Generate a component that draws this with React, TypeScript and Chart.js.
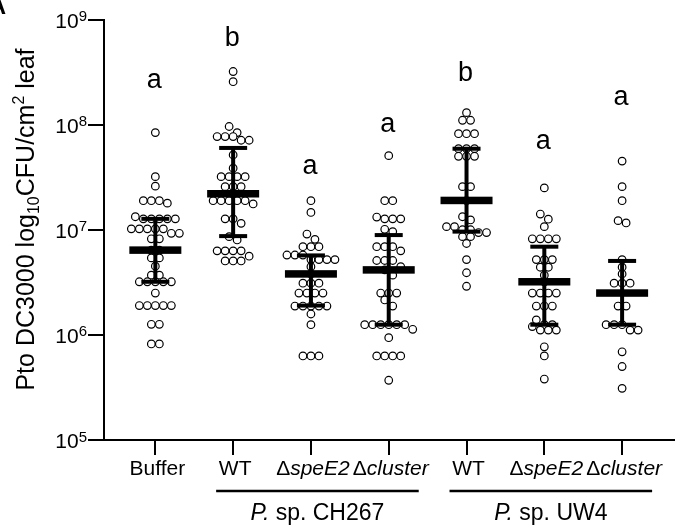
import React, { useEffect, useRef } from 'react';
import { Chart, registerables } from 'chart.js';

Chart.register(...registerables);

// ---------- data ----------
const categories = ['Buffer', 'WT', 'ΔspeE2', 'Δcluster', 'WT', 'ΔspeE2', 'Δcluster'];
const groupNames = ['CH267', 'UW4'];
const groupStart = [1, 4];
const groupEnd = [3, 6];
const significance = ['a', 'b', 'a', 'a', 'b', 'a', 'a'];
const significanceY = [2.23e8, 5.6e8, 3.4e7, 8.5e7, 2.6e8, 5.9e7, 1.54e8];

const bufferValues = [8.4e7, 3.2e7, 2.6e7, 1.89e7, 1.89e7, 1.89e7, 1.79e7, 1.33e7, 1.27e7, 1.27e7, 1.27e7, 1.27e7, 1.27e7, 1.02e7, 1.02e7, 1.02e7, 1.02e7, 1.02e7, 9.25e6, 9.25e6, 8.2e6, 8.2e6, 6.4e6, 6.4e6, 5.4e6, 5.4e6, 4.5e6, 3.7e6, 3.7e6, 3.2e6, 3.2e6, 3.2e6, 3.2e6, 3.2e6, 2.5e6, 1.9e6, 1.9e6, 1.9e6, 1.9e6, 1.9e6, 1.26e6, 1.26e6, 8.2e5, 8.2e5];
const wtCH267Values = [3.2e8, 2.56e8, 9.6e7, 8.4e7, 7.7e7, 7.7e7, 7.7e7, 7.1e7, 7.1e7, 5.15e7, 3.85e7, 3.2e7, 3.2e7, 3.2e7, 3.2e7, 2.57e7, 2.57e7, 2.57e7, 2.2e7, 1.89e7, 1.89e7, 1.89e7, 1.89e7, 1.89e7, 1.76e7, 1.27e7, 1.27e7, 1.15e7, 8.6e6, 8.0e6, 6.3e6, 6.3e6, 6.3e6, 6.3e6, 5.6e6, 5.05e6, 5.05e6, 5.05e6];
const speE2CH267Values = [1.89e7, 1.46e7, 9.1e6, 8.1e6, 6.9e6, 6.9e6, 6.9e6, 5.75e6, 5.75e6, 5.75e6, 5.2e6, 5.2e6, 5.2e6, 5.2e6, 4.45e6, 3.8e6, 3.1e6, 3.1e6, 3.1e6, 2.5e6, 2.5e6, 2.5e6, 2.5e6, 1.88e6, 1.88e6, 1.88e6, 1.88e6, 1.88e6, 1.58e6, 1.25e6, 6.3e5, 6.3e5, 6.3e5];
const clusterCH267Values = [5.07e7, 1.89e7, 1.89e7, 1.32e7, 1.27e7, 1.27e7, 1.27e7, 1.01e7, 9.6e6, 6.9e6, 6.9e6, 6.9e6, 6.3e6, 5.1e6, 5.1e6, 5.1e6, 4.45e6, 4.15e6, 3.7e6, 2.5e6, 2.5e6, 2.5e6, 2.15e6, 1.88e6, 1.25e6, 1.25e6, 1.25e6, 1.25e6, 1.25e6, 1.25e6, 1.13e6, 9.4e5, 6.3e5, 6.3e5, 6.3e5, 6.3e5, 3.7e5];
const wtUW4Values = [1.3e8, 1.1e8, 1.1e8, 8.2e7, 8.2e7, 8.2e7, 5.9e7, 5.9e7, 5.9e7, 5.0e7, 5.0e7, 5.0e7, 2.57e7, 2.57e7, 1.89e7, 1.33e7, 1.24e7, 1.07e7, 1.07e7, 1.0e7, 1.0e7, 9.4e6, 9.4e6, 8.6e6, 8.6e6, 7.4e6, 5.2e6, 3.9e6, 2.9e6];
const speE2UW4Values = [2.5e7, 1.41e7, 1.26e7, 1.07e7, 8.2e6, 8.2e6, 8.2e6, 8.2e6, 5.2e6, 5.2e6, 5.2e6, 4.4e6, 4.4e6, 3.7e6, 3.2e6, 2.5e6, 2.5e6, 2.5e6, 2.5e6, 1.88e6, 1.88e6, 1.88e6, 1.39e6, 1.25e6, 1.25e6, 1.2e6, 1.11e6, 1.11e6, 1.11e6, 7.7e5, 6.3e5, 3.8e5];
const clusterUW4Values = [4.5e7, 2.57e7, 1.89e7, 1.22e7, 1.16e7, 5.2e6, 4.4e6, 3.8e6, 3.1e6, 3.1e6, 3.1e6, 1.88e6, 1.88e6, 1.25e6, 1.25e6, 1.25e6, 1.11e6, 1.11e6, 6.9e5, 5.0e5, 3.1e5];

const medians = [6.4e6, 2.2e7, 3.8e6, 4.15e6, 1.9e7, 3.2e6, 2.5e6];
const upperQuartile = [1.27e7, 6.0e7, 5.7e6, 8.9e6, 5.9e7, 6.9e6, 5.05e6];
const lowerQuartile = [3.2e6, 8.7e6, 1.9e6, 1.25e6, 9.6e6, 1.25e6, 1.25e6];

const yTicks = [1e5, 1e6, 1e7, 1e8, 1e9];
const xTicks = [0, 1, 2, 3, 4, 5, 6];

const allGroups = [bufferValues, wtCH267Values, speE2CH267Values, clusterCH267Values, wtUW4Values, speE2UW4Values, clusterUW4Values];

const FONT = "'Liberation Sans', Arial, Helvetica, sans-serif";

const swarmPlugin = {
  id: 'swarm',
  afterDatasetsUpdate(chart: any) {
    const meta = chart.getDatasetMeta(0);
    const data = chart.data.datasets[0].data as any[];
    const xs = chart.scales.x;
    const SPACING = 8;
    const TOL = 6.5;
    for (let c = 0; c < categories.length; c++) {
      const items = meta.data
        .map((el: any, i: number) => ({ el, i }))
        .filter((d: any) => data[d.i].x === c)
        .sort((a: any, b: any) => a.el.y - b.el.y);
      const base = xs.getPixelForValue(c);
      let k = 0;
      while (k < items.length) {
        const y0 = items[k].el.y;
        let j = k;
        while (j < items.length && items[j].el.y - y0 < TOL) j++;
        const n = j - k;
        for (let m = 0; m < n; m++) {
          items[k + m].el.x = base + (m - (n - 1) / 2) * SPACING;
        }
        k = j;
      }
    }
  },
};

const annotationPlugin = {
  id: 'annot',
  afterDatasetsDraw(chart: any) {
    const ctx = chart.ctx as CanvasRenderingContext2D;
    const xs = chart.scales.x;
    const ys = chart.scales.y;
    ctx.save();
    ctx.fillStyle = '#000';
    for (let i = 0; i < categories.length; i++) {
      const x = xs.getPixelForValue(i);
      const yt = ys.getPixelForValue(upperQuartile[i]);
      const yb = ys.getPixelForValue(lowerQuartile[i]);
      const ym = ys.getPixelForValue(medians[i]);
      ctx.fillRect(x - 2, yt, 4, yb - yt);
      ctx.fillRect(x - 14, yt - 2, 28, 4);
      ctx.fillRect(x - 14, yb - 2, 28, 4);
      ctx.fillRect(x - 26, ym - 3.75, 52, 7.5);
      ctx.font = `27px ${FONT}`;
      ctx.textAlign = 'center';
      ctx.textBaseline = 'alphabetic';
      ctx.fillText(significance[i], x - 1, ys.getPixelForValue(significanceY[i]));
    }
    ctx.restore();
  },
  afterDraw(chart: any) {
    const ctx = chart.ctx as CanvasRenderingContext2D;
    const xs = chart.scales.x;
    const ys = chart.scales.y;
    ctx.save();
    ctx.fillStyle = '#000';
    ctx.strokeStyle = '#000';
    ctx.textBaseline = 'alphabetic';

    // y tick labels 10^n
    const right = chart.chartArea.left - 17;
    yTicks.forEach((v) => {
      const y = ys.getPixelForValue(v);
      const exp = String(Math.round(Math.log10(v)));
      ctx.font = `15px ${FONT}`;
      ctx.textAlign = 'right';
      const supW = ctx.measureText(exp).width;
      ctx.fillText(exp, right, y + 1.5);
      ctx.font = `21px ${FONT}`;
      ctx.fillText('10', right - supW, y + 8);
    });

    // y title
    ctx.save();
    ctx.translate(33.5, 219.5);
    ctx.rotate(-Math.PI / 2);
    const pieces = [
      { t: 'Pto DC3000 log', f: `25px ${FONT}`, dy: 0 },
      { t: '10', f: `16px ${FONT}`, dy: 5 },
      { t: 'CFU/cm', f: `25px ${FONT}`, dy: 0 },
      { t: '2', f: `16px ${FONT}`, dy: -10 },
      { t: ' leaf', f: `25px ${FONT}`, dy: 0 },
    ];
    let total = 0;
    pieces.forEach((p) => { ctx.font = p.f; total += ctx.measureText(p.t).width; });
    let px = -total / 2;
    ctx.textAlign = 'left';
    pieces.forEach((p) => {
      ctx.font = p.f;
      ctx.fillText(p.t, px, p.dy);
      px += ctx.measureText(p.t).width;
    });
    ctx.restore();

    // category labels
    ctx.textAlign = 'left';
    categories.forEach((lab, i) => {
      const x = xs.getPixelForValue(i) + 2;
      let parts: { t: string; f: string }[];
      if (lab.startsWith('Δ')) {
        parts = [
          { t: 'Δ', f: `21px ${FONT}` },
          { t: lab.slice(1), f: `italic 21px ${FONT}` },
        ];
      } else {
        parts = [{ t: lab, f: `21px ${FONT}` }];
      }
      let w = 0;
      parts.forEach((p) => { ctx.font = p.f; w += ctx.measureText(p.t).width; });
      let cx = x - w / 2;
      parts.forEach((p) => {
        ctx.font = p.f;
        ctx.fillText(p.t, cx, 475);
        cx += ctx.measureText(p.t).width;
      });
    });

    // group lines and labels
    groupNames.forEach((name, g) => {
      const x1 = xs.getPixelForValue(groupStart[g]) - 17;
      const x2 = xs.getPixelForValue(groupEnd[g]) + 30;
      ctx.lineWidth = 2.5;
      ctx.beginPath();
      ctx.moveTo(x1, 491);
      ctx.lineTo(x2, 491);
      ctx.stroke();
      const parts = [
        { t: 'P.', f: `italic 23px ${FONT}` },
        { t: ' sp. ' + name, f: `23px ${FONT}` },
      ];
      let w = 0;
      parts.forEach((p) => { ctx.font = p.f; w += ctx.measureText(p.t).width; });
      let cx = (x1 + x2) / 2 - w / 2;
      parts.forEach((p) => {
        ctx.font = p.f;
        ctx.fillText(p.t, cx, 520);
        cx += ctx.measureText(p.t).width;
      });
    });

    // panel letter (cut off)
    ctx.font = `bold 24px ${FONT}`;
    ctx.textAlign = 'right';
    ctx.fillText('A', 6, 14);

    ctx.restore();
  },
};

export default function App() {
  const ref = useRef<HTMLCanvasElement | null>(null);
  useEffect(() => {
    if (!ref.current) return;
    const points: { x: number; y: number }[] = [];
    allGroups.forEach((vals, c) => vals.forEach((v) => points.push({ x: c, y: v })));
    const chart = new Chart(ref.current, {
      type: 'scatter',
      data: {
        datasets: [
          {
            data: points,
            pointRadius: 3.8,
            pointBorderWidth: 1.2,
            pointBorderColor: '#000',
            pointBackgroundColor: '#fff',
            pointHoverRadius: 3.8,
          } as any,
        ],
      },
      options: {
        responsive: false,
        animation: false,
        events: [],
        layout: { padding: { left: 88, top: 19.5, right: 0, bottom: 71 } },
        plugins: { legend: { display: false }, tooltip: { enabled: false } },
        scales: {
          x: {
            type: 'linear',
            min: -0.66,
            max: 6.667,
            afterBuildTicks: (s: any) => { s.ticks = xTicks.map((v) => ({ value: v })); },
            ticks: { display: false },
            grid: { drawOnChartArea: false, drawTicks: true, tickLength: 15, color: '#000', lineWidth: 2 },
            border: { display: true, color: '#000', width: 2 },
          },
          y: {
            type: 'logarithmic',
            min: 1e5,
            max: 1e9,
            afterBuildTicks: (s: any) => { s.ticks = yTicks.map((v) => ({ value: v })); },
            ticks: { display: false },
            grid: { drawOnChartArea: false, drawTicks: true, tickLength: 16, color: '#000', lineWidth: 2 },
            border: { display: true, color: '#000', width: 2 },
          },
        },
      },
      plugins: [swarmPlugin, annotationPlugin],
    });
    return () => chart.destroy();
  }, []);
  return (
    <div style={{ position: 'absolute', left: 0, top: 0, width: 679, height: 526, background: '#fff' }}>
      <canvas ref={ref} width={679} height={526} style={{ display: 'block' }} />
    </div>
  );
}
